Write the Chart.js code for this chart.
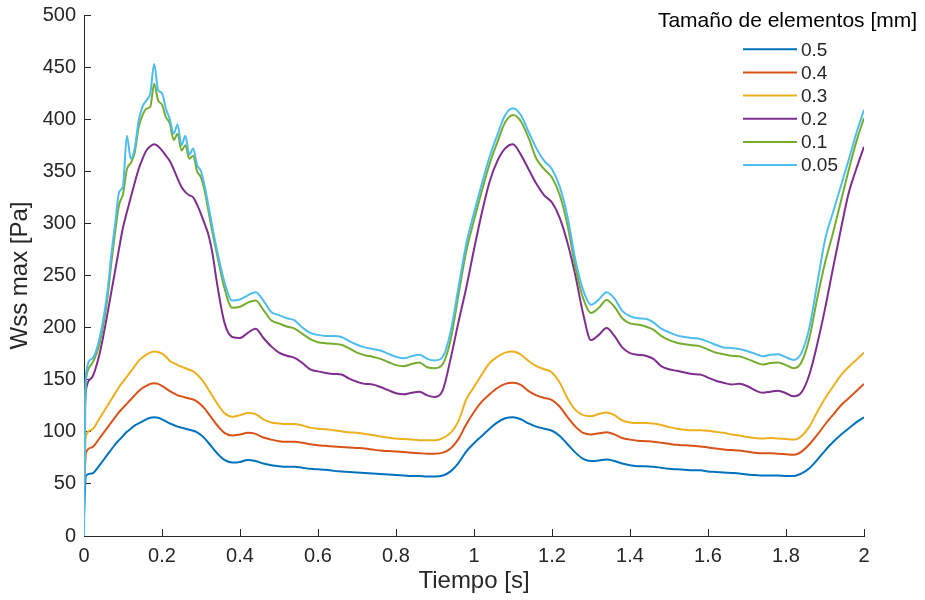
<!DOCTYPE html>
<html>
<head>
<meta charset="utf-8">
<script src="https://cdn.jsdelivr.net/npm/chart.js@4"></script>
<style>
  html, body { margin: 0; padding: 0; background: #fff; }
</style>
</head>
<body>
<canvas id="graficoWss" width="925" height="600"></canvas>
<script>
// ─── Datos: Wss máximo [Pa] frente al tiempo para cada tamaño de elemento ───
// Paso más fino entre 0.06 y 0.34 s, donde las mallas finas tienen ruido.
var tiempo = [
  0, 0.005, 0.02, 0.04,
  0.06, 0.07, 0.08, 0.09, 0.10, 0.11, 0.12, 0.13, 0.14, 0.15,
  0.16, 0.17, 0.18, 0.19, 0.20, 0.21, 0.22, 0.23, 0.24, 0.25,
  0.26, 0.27, 0.28, 0.29, 0.30, 0.31, 0.32, 0.33, 0.34,
  0.36, 0.38, 0.40, 0.42, 0.44, 0.46, 0.48, 0.50, 0.52, 0.54,
  0.56, 0.58, 0.60, 0.62, 0.64, 0.66, 0.68, 0.70, 0.72, 0.74,
  0.76, 0.78, 0.80, 0.82, 0.84, 0.86, 0.88, 0.90, 0.92, 0.94,
  0.96, 0.98, 1.00, 1.02, 1.04, 1.06, 1.08, 1.10, 1.12, 1.14,
  1.16, 1.18, 1.20, 1.22, 1.24, 1.26, 1.28, 1.30, 1.32, 1.34,
  1.36, 1.38, 1.40, 1.42, 1.44, 1.46, 1.48, 1.50, 1.52, 1.54,
  1.56, 1.58, 1.60, 1.62, 1.64, 1.66, 1.68, 1.70, 1.72, 1.74,
  1.76, 1.78, 1.80, 1.82, 1.84, 1.86, 1.88, 1.90, 1.92, 1.94,
  1.96, 1.98, 2.00
];

var wss05 = [
  20, 58, 60, 68,
  78, 83, 88, 92, 96, 100, 103, 106, 108, 110,
  112, 113.5, 114, 113.5, 112, 110, 108, 106.5, 105, 104,
  103, 102, 101, 99.5, 97, 93.5, 89, 84.5, 80,
  73, 70.5, 71, 73, 72, 69.5, 68, 67, 66.5, 66.5,
  65.5, 64.5, 64, 63.5, 62.5, 62, 61.5, 61, 60.5, 60,
  59.5, 59, 58.5, 58, 57.5, 57.5, 57, 57, 58, 62,
  70, 81, 89, 96, 103, 109, 113, 114, 112, 108,
  105, 103, 101, 96, 88, 80, 74, 72, 72.5, 73.5,
  72, 69.5, 68, 67, 67, 66.5, 65.5, 64.5, 64, 63.5,
  63, 63, 62, 61.5, 61, 60.5, 60, 59, 58.5, 58,
  58, 58, 57.5, 57.5, 60, 65, 73, 82, 90, 97,
  103, 109, 114
];

var wss04 = [
  45, 80, 85, 94,
  104, 109, 114, 119, 123, 127, 131, 135, 139, 142,
  144, 146, 146.5, 146, 144, 141.5, 139, 137, 135, 134,
  133, 132, 131, 129, 126, 122, 117, 112, 107,
  99, 96.5, 97.5, 99, 98, 94.5, 92.5, 91, 90.5, 90.5,
  89.5, 88, 87, 86.5, 86, 85.5, 85, 84.5, 84, 83,
  82, 81.5, 81, 80.5, 80, 79.5, 79, 79, 80, 84,
  93, 107, 119, 129, 136, 142, 146, 147, 145, 139,
  135, 132.5, 130.5, 124, 114, 105, 99, 97.5, 98.5, 99.5,
  97.5, 94, 92.5, 91.5, 91, 90.5, 89.5, 88.5, 87.5, 87,
  86.5, 86, 85, 84, 83, 82.5, 82, 81, 80, 79.5,
  79.5, 79, 78.5, 78, 81, 88, 97, 107, 116, 125,
  132, 139, 146
];

var wss03 = [
  55, 96, 102, 113,
  125, 131, 137, 143, 148, 153, 158, 163, 168, 171.5,
  174, 176, 177, 176.5, 175, 172, 168, 166, 164, 162.5,
  161, 159.5, 158, 155, 151, 146, 140, 134, 128,
  118, 114.5, 116, 118, 117, 112, 109, 108, 107.5, 107.5,
  106, 104, 103, 102.5, 101.5, 100.5, 99.5, 99, 98, 97,
  95.5, 94.5, 93.5, 93, 92.5, 92, 92, 92, 94, 99,
  110, 131, 143, 155, 166, 172, 176, 177, 174, 168,
  163, 160, 157, 147, 132, 121, 116, 115, 117, 118.5,
  116, 111, 109, 108.5, 108.5, 108, 106.5, 104.5, 103, 102,
  101.5, 101.5, 101, 100, 99, 97.5, 96.5, 95, 94, 93.5,
  94, 93.5, 93, 92.5, 96, 105, 119, 132, 143, 154,
  162, 169, 176
];

var wss02 = [
  100, 140, 152, 175,
  213, 234, 255, 276, 296, 311, 325, 339, 352, 362,
  370, 374, 376, 374, 370, 365, 360, 352, 343, 335,
  330, 327, 325, 318, 309, 299, 288, 270, 245,
  205, 191, 190, 195, 199, 190, 182, 176, 173, 171,
  166, 160, 158, 156.5, 155.5, 155, 151, 148, 146, 145.5,
  143, 140, 137, 136, 137.5, 138.5, 135, 133.5, 140, 170,
  205, 238, 275, 310, 340, 360, 372, 376, 366, 352,
  338, 327, 320, 305, 281, 250, 213, 188, 193, 199.5,
  192, 181, 175.5, 174, 173, 170, 163, 160, 158.5, 157,
  155.5, 155, 152, 149, 147, 145.5, 146, 144, 140, 137.5,
  138.5, 139.5, 137, 134, 138, 155, 184, 218, 256, 293,
  328, 352, 373.5
];

var wss01 = [
  110, 150, 165, 185,
  228, 262, 292, 318, 328, 352, 358, 368, 392, 404,
  410, 412, 434, 418, 414, 402, 396, 380, 386, 370,
  375, 362, 365, 350, 344, 330, 310, 290, 272,
  238, 219, 220, 224, 226, 217, 207, 204, 201, 199,
  194, 189, 186, 185, 184.5, 183.5, 180, 176, 173.5, 172,
  170, 167, 164, 163, 165, 166.5, 162, 161, 165, 188,
  231, 273, 303, 331, 357, 378, 397, 404, 398, 382,
  362, 352, 344, 327, 298, 258, 228, 214, 219, 226.5,
  220, 209, 204, 203, 201, 198, 192, 188, 185.5, 184,
  183, 182, 179, 176, 174.5, 173, 172.5, 170, 167, 164.5,
  166, 166.5, 164, 161, 167, 190, 228, 262, 290, 320,
  350, 378, 401
];

var wss005 = [
  0, 155, 170, 190,
  234, 270, 300, 330, 336, 384, 362, 372, 398, 412,
  418, 425, 453, 428, 425, 410, 400, 386, 395, 375,
  384, 366, 372, 356, 350, 335, 315, 295, 276,
  244, 226, 227, 231, 234, 226, 215, 212, 209, 207,
  200, 195, 193, 192, 192, 191, 187, 183.5, 181, 179.5,
  178, 175, 172, 170.5, 172.5, 174, 170, 168.5, 172, 196,
  238, 280, 310, 338, 364, 385, 404, 410.5, 404, 388,
  372, 360, 352, 335, 306, 265, 236, 222, 227, 234,
  228, 216, 211, 209, 208.5, 205, 199, 195.5, 192.5, 191,
  190, 189, 186.5, 183.5, 181, 180.5, 179.5, 177.5, 175, 172.5,
  174, 174.5, 171.5, 169, 176, 200, 242, 284, 310, 335,
  360, 386, 409
];

var etiquetas = ['0.5', '0.4', '0.3', '0.2', '0.1', '0.05'];
var series = [wss05, wss04, wss03, wss02, wss01, wss005];
var colores = ['#0072BD', '#D95319', '#EDB120', '#7E2F8E', '#77AC30', '#4DBEEE'];
var tituloLeyenda = 'Tamaño de elementos [mm]';

var FUENTE = '"Liberation Sans", Arial, sans-serif';
var GRIS = '#262626';

// ─── Leyenda dentro del área de trazado, arriba a la derecha ───
var leyendaInterior = {
  id: 'leyendaInterior',
  afterDraw: function(chart) {
    var ctx = chart.ctx;
    var area = chart.chartArea;
    ctx.save();
    ctx.fillStyle = '#000';
    ctx.font = '21px ' + FUENTE;
    ctx.textAlign = 'center';
    ctx.textBaseline = 'alphabetic';
    ctx.fillText(tituloLeyenda, area.right - 76.5, 26.7);

    ctx.font = '19px ' + FUENTE;
    ctx.textAlign = 'left';
    ctx.textBaseline = 'middle';
    chart.data.datasets.forEach(function(ds, i) {
      var y = 49.3 + i * 23.15;
      ctx.strokeStyle = ds.borderColor;
      ctx.lineWidth = 2;
      ctx.beginPath();
      ctx.moveTo(area.right - 121, y);
      ctx.lineTo(area.right - 67, y);
      ctx.stroke();
      ctx.fillStyle = GRIS;
      ctx.fillText(ds.label, area.right - 63, y + 1);
    });
    ctx.restore();
  }
};

var datasets = series.map(function(valores, i) {
  return {
    label: etiquetas[i],
    data: valores.map(function(v, k) { return { x: tiempo[k], y: v }; }),
    borderColor: colores[i],
    backgroundColor: colores[i],
    borderWidth: 2,
    pointRadius: 0,
    fill: false,
    cubicInterpolationMode: 'monotone',
    order: series.length - i   // la última serie queda encima
  };
});

new Chart(document.getElementById('graficoWss').getContext('2d'), {
  type: 'line',
  data: { datasets: datasets },
  options: {
    responsive: false,
    animation: false,
    layout: { padding: { left: 0, top: 15, right: 61, bottom: 0 } },
    plugins: {
      legend: { display: false },
      tooltip: { enabled: false }
    },
    scales: {
      x: {
        type: 'linear',
        min: 0,
        max: 2,
        border: { color: GRIS, width: 1 },
        grid: { drawOnChartArea: false, tickLength: -7, color: GRIS },
        ticks: {
          stepSize: 0.2,
          padding: 15,
          color: GRIS,
          font: { family: FUENTE, size: 20 },
          maxRotation: 0,
          callback: function(v) { return String(Math.round(v * 10) / 10); }
        },
        title: {
          display: true,
          text: 'Tiempo [s]',
          color: GRIS,
          font: { family: FUENTE, size: 24 },
          padding: { top: 0, bottom: 4 }
        },
        afterFit: function(s) { s.height = 64; }
      },
      y: {
        min: 0,
        max: 500,
        border: { color: GRIS, width: 1 },
        grid: { drawOnChartArea: false, tickLength: -7, color: GRIS },
        ticks: {
          stepSize: 50,
          padding: 15,
          color: GRIS,
          font: { family: FUENTE, size: 20 }
        },
        title: {
          display: true,
          text: 'Wss max [Pa]',
          color: GRIS,
          font: { family: FUENTE, size: 24 },
          padding: { top: 6, bottom: 0 }
        },
        // ancho fijo y sin el margen extra que Chart.js reserva para "500"
        afterFit: function(s) {
          s.width = 84;
          s.paddingTop = 0;
          s.paddingBottom = 0;
        }
      }
    }
  },
  plugins: [leyendaInterior]
});
</script>
</body>
</html>
